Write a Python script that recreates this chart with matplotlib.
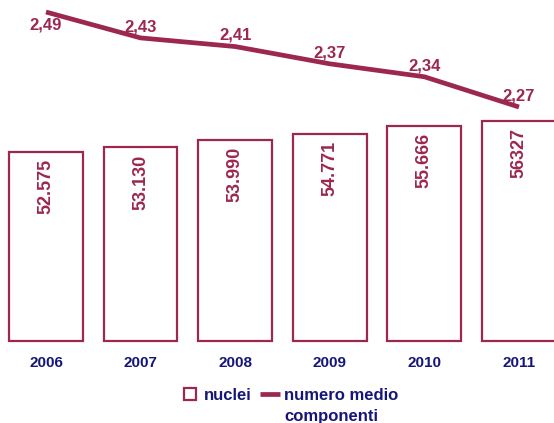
import matplotlib
matplotlib.use("Agg")
import matplotlib.pyplot as plt
from matplotlib.lines import Line2D

plt.rcParams['font.family'] = ['Liberation Sans', 'DejaVu Sans']

# dati
anni = ['2006', '2007', '2008', '2009', '2010', '2011']
nuclei = [52575, 53130, 53990, 54771, 55666, 56327]
nuclei_etichette = ['52.575', '53.130', '53.990', '54.771', '55.666', '56327']
componenti = [2.49, 2.43, 2.41, 2.37, 2.34, 2.27]
componenti_etichette = ['2,49', '2,43', '2,41', '2,37', '2,34', '2,27']

rosso = '#9c2750'
blu = '#16167a'
base = 30000

fig = plt.figure(figsize=(5.54, 4.23), dpi=100)
ax = fig.add_axes([0, 82 / 423, 1, 341 / 423])
x = list(range(len(anni)))

# barre (vuote, bordo rosso), asse che parte da 30000
ax.bar(x, [v - base for v in nuclei], width=0.78, bottom=base,
       facecolor='white', edgecolor=rosso, linewidth=1.6, clip_on=False)
ax.set_ylim(base, 70741)
ax.set_xlim(-0.486, 5.37)
for xi, v, lab in zip(x, nuclei, nuclei_etichette):
    ax.annotate(lab, (xi, v), xytext=(0, -5), textcoords='offset points',
                rotation=90, ha='center', va='top', fontsize=13,
                fontweight='bold', color=rosso)

ax.set_xticks(x)
ax.set_xticklabels(anni, fontsize=11, fontweight='bold', color=blu)
ax.tick_params(axis='x', length=0, pad=10.5)
ax.set_yticks([])
for s in ax.spines.values():
    s.set_visible(False)

# linea sull'asse secondario
ax2 = ax.twinx()
ax2.plot(x, componenti, color=rosso, linewidth=3.4, solid_capstyle='butt')
ax2.set_ylim(1.7281, 2.5178)
ax2.set_yticks([])
for s in ax2.spines.values():
    s.set_visible(False)
for i, (xi, v, lab) in enumerate(zip(x, componenti, componenti_etichette)):
    dy = -9 if i == 0 else 8
    ax2.annotate(lab, (xi, v), xytext=(0, dy), textcoords='offset points',
                 ha='center', va='center', fontsize=12, fontweight='bold', color=rosso)

# legenda
h1 = Line2D([], [], linestyle='none', marker='s', markersize=9,
            markerfacecolor='white', markeredgecolor=rosso, markeredgewidth=1.6)
h2 = Line2D([], [], color=rosso, linewidth=3.4, solid_capstyle='butt')
leg = fig.legend([h1, h2], ['nuclei', 'numero medio'], ncol=2,
                 loc='upper center', bbox_to_anchor=(289 / 554, 1 - 388 / 423),
                 frameon=False, handlelength=1.2, handletextpad=0.25,
                 columnspacing=0.5, borderpad=0, borderaxespad=0,
                 prop={'size': 12, 'weight': 'bold'})
for t in leg.get_texts():
    t.set_color(blu)

# seconda riga dell'etichetta, allineata sotto "numero medio"
fig.canvas.draw()
bb = leg.get_texts()[1].get_window_extent().transformed(fig.transFigure.inverted())
fig.text(bb.x0, bb.y0 - 0.014, 'componenti', ha='left', va='top',
         fontsize=12, fontweight='bold', color=blu)

fig.savefig('out.png', dpi=100)
